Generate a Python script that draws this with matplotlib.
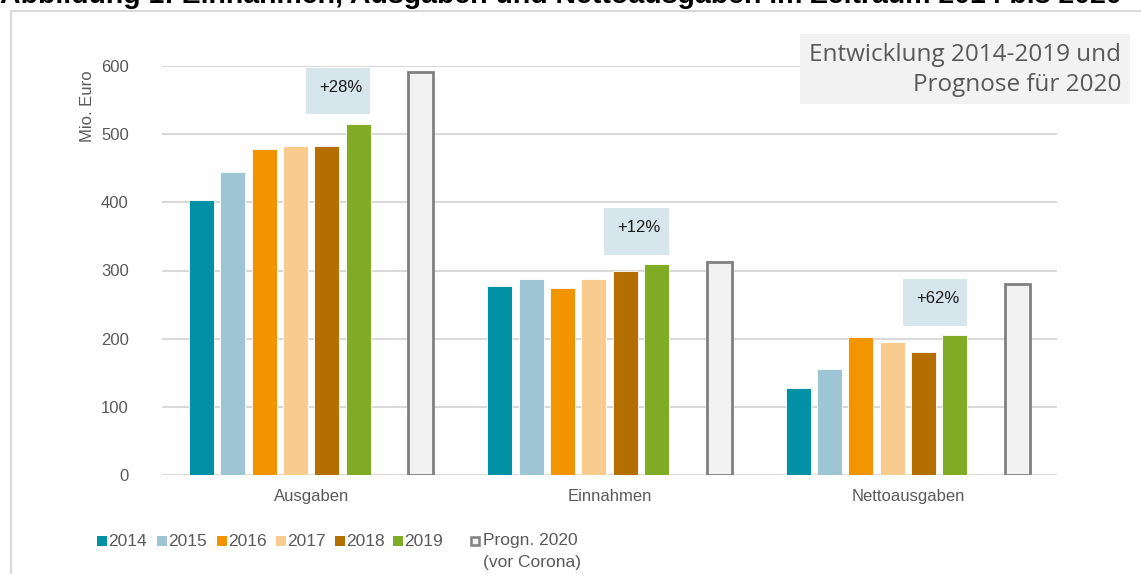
import numpy as np
import matplotlib
matplotlib.use("Agg")
import matplotlib.pyplot as plt
from matplotlib.patches import Rectangle

# Daten (Mio. Euro)
kategorien = ["Ausgaben", "Einnahmen", "Nettoausgaben"]
jahre = ["2014", "2015", "2016", "2017", "2018", "2019"]
werte = {
    "2014": [403, 277, 127],
    "2015": [444, 287, 156],
    "2016": [478, 274, 203],
    "2017": [483, 287, 195],
    "2018": [482, 300, 181],
    "2019": [515, 309, 205],
}
prognose_2020 = [591, 312, 280]
zuwachs = ["+28%", "+12%", "+62%"]

farben = ["#0091a6", "#9dc5d3", "#f29400", "#facb8e", "#b56f00", "#80ac25"]
grau = "#595959"

plt.rcParams["font.family"] = ["Liberation Sans", "DejaVu Sans"]

W, H = 1141, 574
def fx(px):
    return px / W
def fy(py):
    return 1 - py / H

fig = plt.figure(figsize=(W/100, H/100), dpi=100)
ax = fig.add_axes([fx(162), fy(475), fx(1057-162), 409/H])

x = np.arange(len(kategorien))
slot = 0.105
breite = 0.084
offsets = np.array([-3.5, -2.5, -1.5, -0.5, 0.5, 1.5])

for i, j in enumerate(jahre):
    ax.bar(x + offsets[i]*slot, werte[j], width=breite, color=farben[i],
           edgecolor="white", linewidth=0.6, zorder=3, label=j)
ax.bar(x + 3.5*slot, prognose_2020, width=breite, color="#f2f2f2",
       edgecolor="#808080", linewidth=2, zorder=3, label="Progn. 2020")

# Zuwachs-Boxen
for k in range(len(kategorien)):
    unten = werte["2019"][k] + 14
    ax.add_patch(Rectangle((x[k] - 0.017, unten), 0.215, 68, facecolor="#d6e6ec",
                           edgecolor="none", zorder=4))
    ax.text(x[k] + 0.1, unten + 40, zuwachs[k], ha="center", va="center",
            fontsize=12, color="#1a1a1a", zorder=5)

ax.set_xlim(-0.5, 2.5)
ax.set_ylim(0, 600)
ax.set_yticks(np.arange(0, 601, 100))
ax.set_xticks(x)
ax.set_xticklabels(kategorien)
ax.tick_params(axis="both", length=0, labelsize=12, colors=grau)
ax.tick_params(axis="y", pad=24)
ax.tick_params(axis="x", pad=10)
ax.grid(axis="y", color="#d9d9d9", linewidth=1.5, zorder=0)
for s in ax.spines.values():
    s.set_visible(False)

fig.text(fx(88), fy(106), "Mio. Euro", rotation=90, ha="center", va="center",
         fontsize=12, color=grau)

# Textbox oben rechts
fig.patches.append(Rectangle((fx(800), fy(104)), fx(330), 70/H,
                             transform=fig.transFigure, facecolor="#f2f2f2",
                             edgecolor="none", zorder=1))
fig.text(fx(1121), fy(70), "Entwicklung 2014-2019 und\nPrognose für 2020",
         ha="right", va="center", fontsize=17.5, color=grau,
         family=["Open Sans", "DejaVu Sans"], linespacing=1.3, zorder=2)

# Rahmen
fig.patches.append(Rectangle((fx(11), -0.05), 1.2, 1.05 - 11/H,
                             transform=fig.transFigure, facecolor="none",
                             edgecolor="#d9d9d9", linewidth=1.5, zorder=0))

# Titel (oben abgeschnitten)
fig.text(0.0, fy(3), "Abbildung 1: Einnahmen, Ausgaben und Nettoausgaben im Zeitraum 2014 bis 2020",
         ha="left", va="baseline", fontsize=20.5, fontweight="bold", color="black")

# Legende
leg_x = [97, 157, 217, 276, 335, 393]
for i, j in enumerate(jahre):
    fig.patches.append(Rectangle((fx(leg_x[i]), fy(546)), fx(10), 10/H,
                                 transform=fig.transFigure, facecolor=farben[i],
                                 edgecolor="none"))
    fig.text(fx(leg_x[i] + 11), fy(541), j, ha="left", va="center",
             fontsize=12.5, color=grau)
fig.patches.append(Rectangle((fx(471), fy(545)), fx(8), 8/H,
                             transform=fig.transFigure, facecolor="#f2f2f2",
                             edgecolor="#808080", linewidth=1.8))
fig.text(fx(483), fy(541), "Progn. 2020", ha="left", va="center",
         fontsize=12.5, color=grau)
fig.text(fx(483), fy(563), "(vor Corona)", ha="left", va="center",
         fontsize=12.5, color=grau)

fig.savefig("out.png", dpi=100)
